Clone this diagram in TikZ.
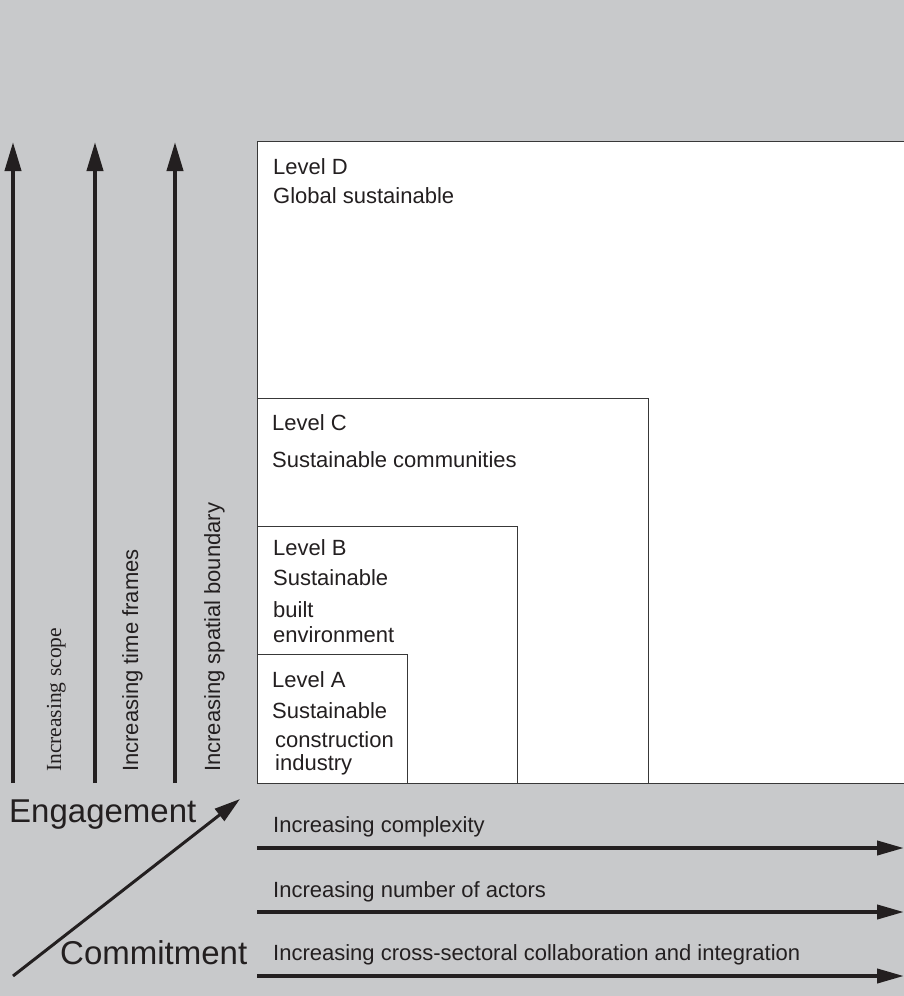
\documentclass[tikz,border=0pt]{standalone}
\usepackage{fontspec}
\setmainfont{Liberation Sans}
\newfontfamily\serifface{Liberation Serif}
\usetikzlibrary{arrows.meta}
\definecolor{panel}{HTML}{C8C9CB}
\definecolor{ink}{HTML}{231F20}
\definecolor{frame}{HTML}{383838}
\begin{document}
\begin{tikzpicture}[x=1pt,y=-1pt,
  levelbox/.style={draw=frame, line width=1.3pt, fill=white, inner sep=0pt, anchor=south west},
  txt/.style={anchor=base west, inner sep=0pt, text=ink, font=\fontsize{22}{26}\selectfont},
  vtxt/.style={txt, rotate=90},
  bigtxt/.style={anchor=base west, inner sep=0pt, text=ink, font=\fontsize{33}{38}\selectfont},
  axis/.style={draw=ink, line width=4pt, -{Triangle[length=29pt,width=16pt]}},
  diag/.style={draw=ink, line width=3pt, -{Triangle[length=26pt,width=15pt]}}
]
\useasboundingbox (0,0) rectangle (904,996);
\fill[panel] (0,0) rectangle (904,996);

% nested levels, largest first
\node[levelbox, minimum width=660, minimum height=642] (lvlD) at (257,784) {};
\node[levelbox, minimum width=391, minimum height=385] (lvlC) at (257,784) {};
\node[levelbox, minimum width=260, minimum height=257] (lvlB) at (257,784) {};
\node[levelbox, minimum width=150, minimum height=129] (lvlA) at (257,784) {};

% level captions
\node[txt] (dTitle) at (273,174) {Level D};
\node[txt] (dName) at (273,203) {Global sustainable};
\node[txt] (cTitle) at (272,430) {Level C};
\node[txt] (cName) at (272,467) {Sustainable communities};
\node[txt] (bTitle) at (273,555) {Level B};
\node[txt] (bName1) at (273,585) {Sustainable};
\node[txt] (bName2) at (273,617) {built};
\node[txt] (bName3) at (273,642) {environment};
\node[txt] (aTitle) at (272,687) {Level A};
\node[txt] (aName1) at (272,718) {Sustainable};
\node[txt] (aName2) at (275,747) {construction};
\node[txt] (aName3) at (275,770) {industry};

% vertical axes
\coordinate (v1s) at (13,783);  \coordinate (v1t) at (13,142);
\coordinate (v2s) at (95,783);  \coordinate (v2t) at (95,142);
\coordinate (v3s) at (175,783); \coordinate (v3t) at (175,142);
\draw[axis] (v1s) -- (v1t);
\draw[axis] (v2s) -- (v2t);
\draw[axis] (v3s) -- (v3t);
\node[vtxt, font=\serifface\fontsize{21.5}{26}\selectfont] (scope) at (61,772) {Increasing scope};
\node[vtxt] (timeframes) at (138,772) {Increasing time frames};
\node[vtxt] (spatial) at (220,772) {Increasing spatial boundary};

% horizontal axes
\coordinate (h1s) at (257,848); \coordinate (h1t) at (904,848);
\coordinate (h2s) at (257,912); \coordinate (h2t) at (904,912);
\coordinate (h3s) at (257,976); \coordinate (h3t) at (904,976);
\draw[axis, -{Triangle[length=27pt,width=14pt]}] (h1s) -- (h1t);
\draw[axis, -{Triangle[length=27pt,width=14pt]}] (h2s) -- (h2t);
\draw[axis, -{Triangle[length=27pt,width=14pt]}] (h3s) -- (h3t);
\node[txt] (complexity) at (273,832) {Increasing complexity};
\node[txt] (actors) at (273,897) {Increasing number of actors};
\node[txt] (collab) at (273,960) {Increasing cross-sectoral collaboration and integration};

% engagement / commitment diagonal
\node[bigtxt] (engagement) at (9,822) {Engagement};
\node[bigtxt] (commitment) at (60,964) {Commitment};
\coordinate (ds) at (13,976); \coordinate (dt) at (240,799);
\draw[diag] (ds) -- (dt);
\end{tikzpicture}
\end{document}
